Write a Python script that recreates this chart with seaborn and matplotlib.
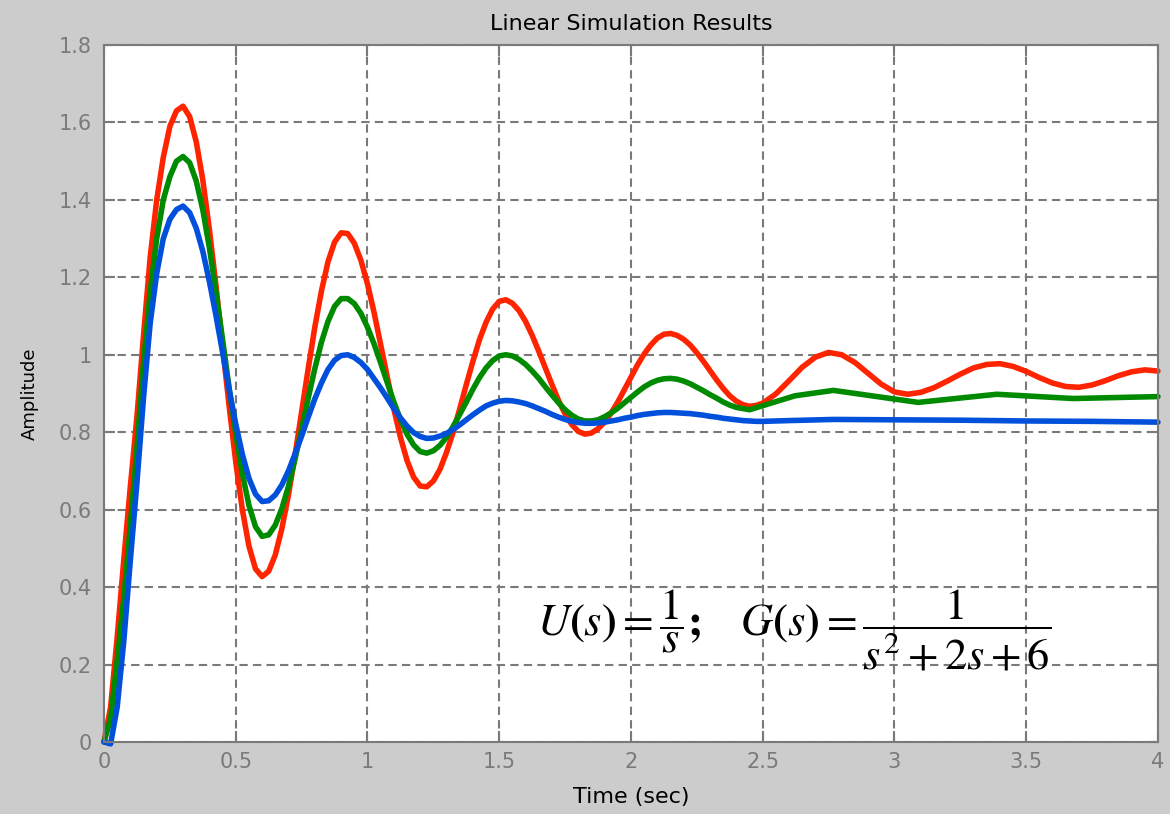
import numpy as np
import pandas as pd
import seaborn as sns
import matplotlib.pyplot as plt

# sample times (fine part up to 2.5 s, coarser afterwards)
t_fine = np.round(np.arange(0, 2.5001, 0.025), 3)
t_coarse = np.round(np.arange(2.55, 4.0001, 0.05), 3)

# red response
red_fine = [0, 0.09, 0.27, 0.47, 0.66, 0.84, 1.05, 1.25, 1.40, 1.51, 1.59, 1.63, 1.642,
            1.615, 1.550, 1.451, 1.323, 1.178, 1.021, 0.867, 0.723, 0.600, 0.506, 0.447, 0.427,
            0.441, 0.483, 0.551, 0.638, 0.741, 0.852, 0.964, 1.071, 1.164, 1.240, 1.291, 1.315,
            1.313, 1.288, 1.244, 1.183, 1.109, 1.026, 0.942, 0.860, 0.787, 0.727, 0.684, 0.661,
            0.659, 0.674, 0.704, 0.748, 0.800, 0.860, 0.923, 0.983, 1.039, 1.084, 1.118, 1.138,
            1.142, 1.133, 1.114, 1.086, 1.050, 1.009, 0.966, 0.923, 0.882, 0.847, 0.820, 0.802, 0.795,
            0.798, 0.809, 0.826, 0.850, 0.878, 0.910, 0.942, 0.974, 1.002, 1.025, 1.043, 1.053,
            1.055, 1.050, 1.040, 1.025, 1.005, 0.983, 0.959, 0.935, 0.913, 0.894, 0.880, 0.871, 0.867,
            0.869, 0.875]
red_coarse = [0.899, 0.933, 0.968, 0.994, 1.006, 1.000, 0.980, 0.952, 0.924, 0.904,
              0.898, 0.903, 0.915, 0.932, 0.950, 0.966, 0.975, 0.977, 0.970, 0.957,
              0.941, 0.927, 0.918, 0.916, 0.922, 0.933, 0.946, 0.956, 0.961, 0.958]

# green response
green_fine = [0, 0.06, 0.21, 0.37, 0.56, 0.76, 0.98, 1.16, 1.30, 1.40, 1.46, 1.50, 1.512,
              1.496, 1.449, 1.374, 1.276, 1.162, 1.039, 0.914, 0.796, 0.693, 0.611, 0.556, 0.531,
              0.535, 0.560, 0.603, 0.660, 0.731, 0.808, 0.888, 0.964, 1.032, 1.086, 1.125, 1.145,
              1.145, 1.132, 1.107, 1.071, 1.028, 0.979, 0.928, 0.878, 0.833, 0.795, 0.767, 0.750,
              0.746, 0.752, 0.766, 0.787, 0.815, 0.846, 0.878, 0.911, 0.941, 0.966, 0.985, 0.997,
              1.000, 0.997, 0.988, 0.975, 0.958, 0.939, 0.917, 0.896, 0.876, 0.858, 0.844, 0.834, 0.829,
              0.829, 0.832, 0.840, 0.850, 0.862, 0.876, 0.890, 0.904, 0.917, 0.927, 0.934, 0.938,
              0.939, 0.937, 0.932, 0.925, 0.916, 0.907, 0.897, 0.888, 0.878, 0.870, 0.864, 0.861, 0.858]
green_tail_t = [2.622, 2.768, 3.09, 3.388, 3.679, 4.0]
green_tail = [0.894, 0.908, 0.877, 0.898, 0.887, 0.892]

# blue response
blue_fine = [0, -0.005, 0.09, 0.26, 0.47, 0.67, 0.89, 1.08, 1.21, 1.30, 1.35, 1.375, 1.384,
             1.367, 1.327, 1.267, 1.189, 1.101, 1.006, 0.910, 0.821, 0.743, 0.681, 0.640, 0.621,
             0.623, 0.638, 0.664, 0.700, 0.744, 0.790, 0.839, 0.886, 0.927, 0.962, 0.986, 0.998,
             1.000, 0.993, 0.980, 0.962, 0.938, 0.914, 0.888, 0.861, 0.837, 0.816, 0.799, 0.789,
             0.784, 0.785, 0.790, 0.797, 0.807, 0.819, 0.832, 0.845, 0.857, 0.868, 0.875, 0.880,
             0.882, 0.881, 0.878, 0.874, 0.868, 0.861, 0.854, 0.846, 0.839, 0.833, 0.828, 0.825, 0.823,
             0.823, 0.824, 0.826, 0.829, 0.832, 0.836, 0.839, 0.843, 0.846, 0.848, 0.850, 0.851,
             0.851, 0.850, 0.849, 0.848, 0.846, 0.844, 0.841, 0.839, 0.836, 0.834, 0.832, 0.830, 0.829,
             0.828, 0.828]
blue_tail_t = [2.6, 2.77, 3.0, 3.25, 3.5, 3.75, 4.0]
blue_tail = [0.830, 0.833, 0.832, 0.831, 0.829, 0.828, 0.826]

xtick_vals = [0, 0.5, 1, 1.5, 2, 2.5, 3, 3.5, 4]
xtick_labels = ["0", "0.5", "1", "1.5", "2", "2.5", "3", "3.5", "4"]
ytick_vals = [0, 0.2, 0.4, 0.6, 0.8, 1.0, 1.2, 1.4, 1.6, 1.8]
ytick_labels = ["0", "0.2", "0.4", "0.6", "0.8", "1", "1.2", "1.4", "1.6", "1.8"]

# long format table for seaborn
df = pd.concat([
    pd.DataFrame({"t": np.concatenate([t_fine, t_coarse]), "amp": red_fine + red_coarse, "series": "red"}),
    pd.DataFrame({"t": np.concatenate([t_fine[:99], green_tail_t]), "amp": green_fine + green_tail, "series": "green"}),
    pd.DataFrame({"t": np.concatenate([t_fine, blue_tail_t]), "amp": blue_fine + blue_tail, "series": "blue"}),
])

colors = {"red": "#ff2400", "green": "#008a00", "blue": "#0050dc"}
gray = "#7a7a7a"

plt.rcParams["mathtext.fontset"] = "stix"
plt.rcParams["font.family"] = ["DejaVu Sans"]

fig = plt.figure(figsize=(11.7, 8.14), dpi=100, facecolor="#cccccc")
ax = fig.add_axes([0.0889, 0.0885, 0.9008, 0.8562])
ax.set_facecolor("white")

sns.lineplot(data=df, x="t", y="amp", hue="series", hue_order=["red", "green", "blue"],
             palette=colors, linewidth=4.0, estimator=None, legend=False, ax=ax)
for line in ax.lines:
    line.set_clip_on(False)
    line.set_solid_capstyle("round")
    line.set_solid_joinstyle("round")

ax.set_xlim(0, 4)
ax.set_ylim(0, 1.8)
ax.set_xticks(xtick_vals)
ax.set_xticklabels(xtick_labels)
ax.set_yticks(ytick_vals)
ax.set_yticklabels(ytick_labels)
ax.tick_params(direction="in", length=8, width=1.5, color=gray, labelcolor=gray,
               labelsize=15, top=True, right=True)
ax.tick_params(axis="x", pad=7)
ax.tick_params(axis="y", pad=9)
ax.set_axisbelow(True)
ax.grid(True, color=gray, linestyle=(0, (4, 2.5)), linewidth=1.5)
for sp in ax.spines.values():
    sp.set_color(gray)
    sp.set_linewidth(1.5)

ax.set_title("Linear Simulation Results", fontsize=16, pad=11)
ax.set_xlabel("Time (sec)", fontsize=16, labelpad=11)
ax.set_ylabel("Amplitude", fontsize=13, labelpad=14)

ax.text(2.62, 0.29,
        r"$U\mathbf{(}s\mathbf{)} = \dfrac{1}{s}\mathbf{;}\quad G\mathbf{(}s\mathbf{)} = \dfrac{1}{s^2 + 2s + 6}$",
        fontsize=32, ha="center", va="center", color="black")

fig.savefig("out.png", dpi=100, facecolor=fig.get_facecolor())
